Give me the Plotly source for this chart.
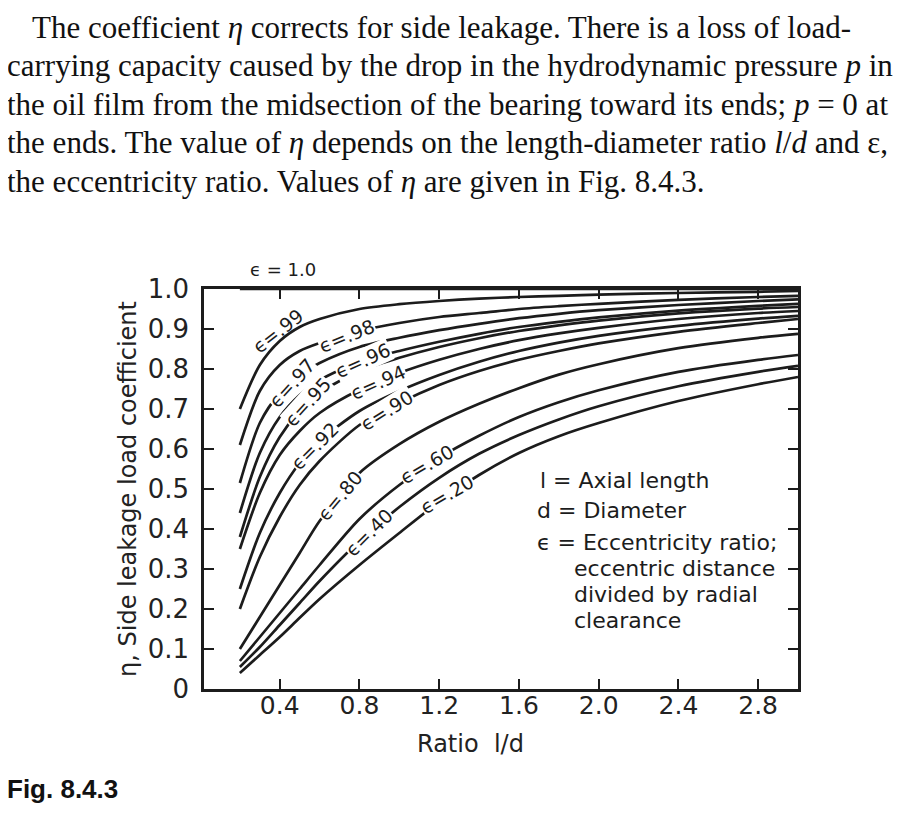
import plotly.graph_objects as go

# ---------------- data ----------------
ratio_ld = [0.2, 0.3, 0.4, 0.5, 0.6, 0.8, 1.0, 1.2, 1.4, 1.6, 1.8, 2.0, 2.4, 2.8, 3.0]

eta_e100 = [1.0, 1.0, 1.0, 1.0, 1.0, 1.0, 1.0, 1.0, 1.0, 1.0, 1.0, 1.0, 1.0, 1.0, 1.0]
eta_e099 = [0.70, 0.81, 0.87, 0.905, 0.925, 0.95, 0.962, 0.970, 0.976, 0.980, 0.983, 0.986, 0.990, 0.993, 0.995]
eta_e098 = [0.61, 0.745, 0.81, 0.845, 0.865, 0.895, 0.915, 0.93, 0.94, 0.95, 0.957, 0.963, 0.973, 0.98, 0.983]
eta_e097 = [0.515, 0.665, 0.74, 0.785, 0.815, 0.855, 0.878, 0.897, 0.913, 0.927, 0.938, 0.947, 0.960, 0.970, 0.974]
eta_e096 = [0.44, 0.59, 0.68, 0.735, 0.772, 0.818, 0.845, 0.868, 0.888, 0.905, 0.918, 0.929, 0.946, 0.958, 0.963]
eta_e095 = [0.38, 0.53, 0.63, 0.695, 0.74, 0.795, 0.828, 0.855, 0.877, 0.895, 0.909, 0.921, 0.939, 0.951, 0.955]
eta_e094 = [0.35, 0.49, 0.585, 0.645, 0.69, 0.748, 0.79, 0.823, 0.85, 0.872, 0.889, 0.903, 0.925, 0.940, 0.945]
eta_e092 = [0.25, 0.39, 0.49, 0.565, 0.62, 0.695, 0.745, 0.785, 0.818, 0.845, 0.866, 0.883, 0.908, 0.926, 0.933]
eta_e090 = [0.20, 0.33, 0.43, 0.51, 0.57, 0.66, 0.715, 0.76, 0.795, 0.823, 0.845, 0.864, 0.893, 0.915, 0.925]
eta_e080 = [0.10, 0.18, 0.26, 0.34, 0.42, 0.54, 0.612, 0.668, 0.713, 0.752, 0.786, 0.812, 0.852, 0.878, 0.888]
eta_e060 = [0.07, 0.13, 0.19, 0.25, 0.31, 0.425, 0.51, 0.578, 0.633, 0.68, 0.717, 0.747, 0.793, 0.823, 0.835]
eta_e040 = [0.055, 0.105, 0.16, 0.215, 0.27, 0.37, 0.455, 0.528, 0.588, 0.635, 0.674, 0.707, 0.757, 0.793, 0.808]
eta_e020 = [0.04, 0.085, 0.13, 0.178, 0.225, 0.31, 0.39, 0.468, 0.535, 0.59, 0.632, 0.665, 0.72, 0.762, 0.78]

curve_names = ["ϵ=1.0", "ϵ=.99", "ϵ=.98", "ϵ=.97", "ϵ=.96", "ϵ=.95", "ϵ=.94",
               "ϵ=.92", "ϵ=.90", "ϵ=.80", "ϵ=.60", "ϵ=.40", "ϵ=.20"]
curve_values = [eta_e100, eta_e099, eta_e098, eta_e097, eta_e096, eta_e095, eta_e094,
                eta_e092, eta_e090, eta_e080, eta_e060, eta_e040, eta_e020]

# inline label placement (x, y, angle) for each curve label
label_names = ["ϵ=.99", "ϵ=.98", "ϵ=.97", "ϵ=.96", "ϵ=.95", "ϵ=.94",
               "ϵ=.92", "ϵ=.90", "ϵ=.80", "ϵ=.60", "ϵ=.40", "ϵ=.20"]
label_x = [0.39, 0.735, 0.46, 0.82, 0.54, 0.895, 0.575, 0.94, 0.70, 1.14, 0.85, 1.24]
label_y = [0.895, 0.882, 0.765, 0.822, 0.717, 0.768, 0.607, 0.697, 0.483, 0.562, 0.392, 0.488]
label_angle = [-38, -22, -48, -24, -48, -24, -45, -32, -50, -30, -45, -30]

x_tick_vals = [0.4, 0.8, 1.2, 1.6, 2.0, 2.4, 2.8]
x_tick_text = ["0.4", "0.8", "1.2", "1.6", "2.0", "2.4", "2.8"]
y_tick_vals = [0, 0.1, 0.2, 0.3, 0.4, 0.5, 0.6, 0.7, 0.8, 0.9, 1.0]
y_tick_text = ["0", "0.1", "0.2", "0.3", "0.4", "0.5", "0.6", "0.7", "0.8", "0.9", "1.0"]

paragraph_lines = [
    "The coefficient <i>η</i> corrects for side leakage. There is a loss of load-",
    "carrying capacity caused by the drop in the hydrodynamic pressure <i>p</i> in",
    "the oil film from the midsection of the bearing toward its ends; <i>p</i> = 0 at",
    "the ends. The value of <i>η</i> depends on the length-diameter ratio <i>l</i>/<i>d</i> and ε,",
    "the eccentricity ratio. Values of <i>η</i> are given in Fig. 8.4.3.",
]
legend_lines = [
    "l = Axial length",
    "d = Diameter",
    "ϵ = Eccentricity ratio;",
    "eccentric distance",
    "divided by radial",
    "clearance",
]

# ---------------- layout geometry ----------------
# the page body has an 8px margin, so the figure is sized to fill the rest
OFF = 8
W, H = 921 - OFF, 840 - OFF
PL, PR, PT, PB = 204, 798, 289, 689   # plot area in page pixels


def px(xp):
    return (xp - PL) / (PR - PL)


def py(yp):
    return (PB - yp) / (PB - PT)


INK = "#1c1c1c"
SANS = "DejaVu Sans"
SERIF = "Liberation Serif"

fig = go.Figure()
for name, vals in zip(curve_names, curve_values):
    fig.add_trace(go.Scatter(
        x=ratio_ld, y=vals, mode="lines", name=name,
        line=dict(color=INK, width=2.7, shape="spline", smoothing=0.8),
        showlegend=False, hoverinfo="skip",
    ))

annotations = []
for i, (t, lx, ly, ang) in enumerate(zip(label_names, label_x, label_y, label_angle)):
    annotations.append(dict(
        x=lx, y=ly, xref="x", yref="y", text=t, showarrow=False,
        xanchor="center", yanchor="middle",
        textangle=ang, font=dict(family=SANS, size=19, color=INK),
        bgcolor="rgba(0,0,0,0)" if i == 0 else "white", borderpad=0,
    ))

# epsilon = 1.0 label above the frame
annotations.append(dict(x=px(283), y=py(270), xref="paper", yref="paper",
                        xanchor="center", yanchor="middle",
                        text="ϵ = 1.0", showarrow=False,
                        font=dict(family=SANS, size=18, color=INK)))

# x axis title
annotations.append(dict(x=px(470), y=py(744), xref="paper", yref="paper",
                        xanchor="center", yanchor="middle",
                        text="Ratio  l/d", showarrow=False,
                        font=dict(family=SANS, size=24, color="#222")))

# legend / notes block
legend_pos = [(538, 480), (535, 510), (535, 542), (572, 568), (572, 594), (572, 620)]
for t, (lx, ly) in zip(legend_lines, legend_pos):
    annotations.append(dict(x=px(lx), y=py(ly), xref="paper", yref="paper",
                            xanchor="left", yanchor="middle", text=t,
                            showarrow=False,
                            font=dict(family=SANS, size=22, color=INK)))

# paragraph above the figure
para_pos = [(30, 27), (5, 65.5), (5, 104), (5, 142.5), (5, 181)]
for t, (lx, ly) in zip(paragraph_lines, para_pos):
    annotations.append(dict(x=px(lx), y=py(ly), xref="paper", yref="paper",
                            xanchor="left", yanchor="middle", text=t,
                            showarrow=False,
                            font=dict(family=SERIF, size=31, color="#111")))

# figure caption
annotations.append(dict(x=px(5), y=py(789), xref="paper", yref="paper",
                        xanchor="left", yanchor="middle", text="<b>Fig. 8.4.3</b>",
                        showarrow=False,
                        font=dict(family="Liberation Sans", size=26, color="#111")))

fig.update_layout(
    width=W, height=H, autosize=False,
    margin=dict(l=PL - OFF, r=W - (PR - OFF), t=PT - OFF, b=H - (PB - OFF), pad=0),
    paper_bgcolor="white", plot_bgcolor="white",
    showlegend=False,
    annotations=annotations,
    xaxis=dict(
        range=[0.02, 3.0], tickmode="array", tickvals=x_tick_vals, ticktext=x_tick_text,
        ticks="inside", ticklen=10, tickwidth=2, tickcolor=INK,
        showline=True, linecolor=INK, linewidth=2.5, mirror="ticks",
        showgrid=False, zeroline=False, ticklabelstandoff=-8,
        tickfont=dict(family=SANS, size=25, color="#222"),
    ),
    yaxis=dict(
        range=[0, 1.0], tickmode="array", tickvals=y_tick_vals, ticktext=y_tick_text,
        ticks="inside", ticklen=10, tickwidth=2, tickcolor=INK,
        showline=True, linecolor=INK, linewidth=2.5, mirror="ticks",
        showgrid=False, zeroline=False, ticklabelstandoff=7,
        tickfont=dict(family=SANS, size=26, color="#222"),
        title=dict(text="η, Side leakage load coefficient", standoff=5,
                   font=dict(family=SANS, size=24, color="#222")),
    ),
)

fig.write_html("out.html")
